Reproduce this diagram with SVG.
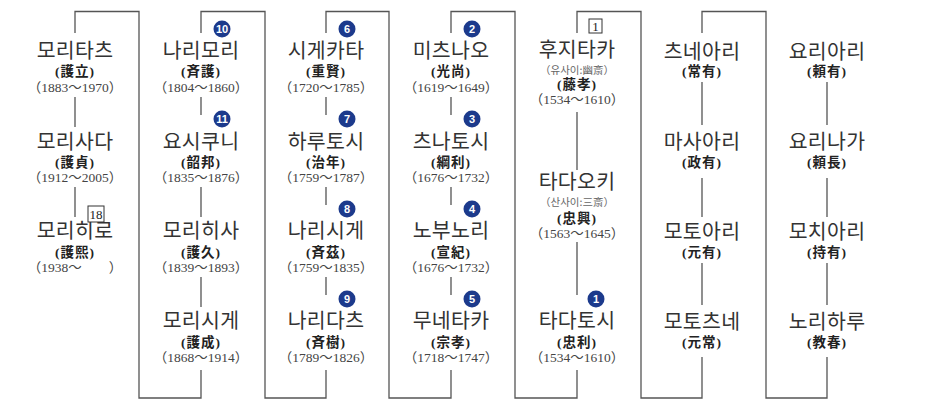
<svg xmlns="http://www.w3.org/2000/svg" width="945" height="407" viewBox="0 0 945 407">
<style>
.nm{font-family:"Noto Sans CJK KR",sans-serif;font-size:20.5px;fill:#333;text-anchor:middle;letter-spacing:0.3px}
.hj{font-family:"Liberation Serif","Noto Sans CJK KR",serif;font-weight:bold;font-size:13.5px;fill:#222;text-anchor:middle;letter-spacing:1px}
.yr{font-family:"Liberation Serif","Noto Sans CJK KR",serif;font-size:13.5px;fill:#444;text-anchor:middle}
.al{font-family:"Noto Sans CJK KR",sans-serif;font-size:10.5px;fill:#666;text-anchor:middle}
.ln{fill:none;stroke:#555;stroke-width:1.3}
.bd{fill:#1c3a8c}
.bt{font-family:"Liberation Sans",sans-serif;font-weight:bold;font-size:11px;fill:#fff;text-anchor:middle}
.bx{fill:#fff;stroke:#333;stroke-width:1}
.bxt{font-family:"Liberation Serif",serif;font-size:13px;fill:#222;text-anchor:middle}
</style>
<rect width="945" height="407" fill="#fff"/>
<g id="connectors" class="ln">
<path d="M75,33V11.5H139V398H201V370"/>
<path d="M201,33V11.5H265V398H326V370"/>
<path d="M326,33V11.5H389V398H451V370"/>
<path d="M451,33V11.5H515V398H577V370"/>
<path d="M577,33V11.5H641V398H702V357"/>
<path d="M702,33V11.5H766V398H827V357"/>
<path d="M75,97V127M75,187V217"/>
<path d="M201,97V115M201,187V217M201,277V307"/>
<path d="M326,97V115M326,187V205M326,277V295"/>
<path d="M451,97V115M451,187V205M451,277V295"/>
<path d="M577,112V170M577,242V295"/>
<path d="M702,82V125M702,178V217M702,263V305"/>
<path d="M827,82V125M827,178V217M827,263V305"/>
</g>
<g id="n-moritatsu"><text class="nm" x="75" y="58">모리타츠</text><text class="hj" x="75" y="76">(護立)</text><text class="yr" x="75" y="92">（1883～1970）</text></g>
<g id="n-morisada"><text class="nm" x="75" y="149">모리사다</text><text class="hj" x="75" y="167">(護貞)</text><text class="yr" x="75" y="182">（1912～2005）</text></g>
<g id="n-morihiro"><text class="nm" x="75" y="238">모리히로</text><text class="hj" x="75" y="257">(護熙)</text><text class="yr" x="75" y="272">（1938～　　）</text><rect class="bx" x="88" y="206" width="16" height="16"/><text class="bxt" x="96" y="219">18</text></g>

<g id="n-narimori"><circle class="bd" cx="222" cy="29" r="8.5"/><text class="bt" x="222" y="33">10</text><text class="nm" x="201" y="58">나리모리</text><text class="hj" x="201" y="76">(斉護)</text><text class="yr" x="201" y="92">（1804～1860）</text></g>
<g id="n-yoshikuni"><circle class="bd" cx="222" cy="119" r="8.5"/><text class="bt" x="222" y="123">11</text><text class="nm" x="201" y="149">요시쿠니</text><text class="hj" x="201" y="167">(韶邦)</text><text class="yr" x="201" y="182">（1835～1876）</text></g>
<g id="n-morihisa"><text class="nm" x="201" y="238">모리히사</text><text class="hj" x="201" y="257">(護久)</text><text class="yr" x="201" y="272">（1839～1893）</text></g>
<g id="n-morishige"><text class="nm" x="201" y="328">모리시게</text><text class="hj" x="201" y="347">(護成)</text><text class="yr" x="201" y="362">（1868～1914）</text></g>

<g id="n-shigekata"><circle class="bd" cx="347" cy="29" r="8.5"/><text class="bt" x="347" y="33">6</text><text class="nm" x="326" y="58">시게카타</text><text class="hj" x="326" y="76">(重賢)</text><text class="yr" x="326" y="92">（1720～1785）</text></g>
<g id="n-harutoshi"><circle class="bd" cx="347" cy="119" r="8.5"/><text class="bt" x="347" y="123">7</text><text class="nm" x="326" y="149">하루토시</text><text class="hj" x="326" y="167">(治年)</text><text class="yr" x="326" y="182">（1759～1787）</text></g>
<g id="n-narishige"><circle class="bd" cx="347" cy="209" r="8.5"/><text class="bt" x="347" y="213">8</text><text class="nm" x="326" y="238">나리시게</text><text class="hj" x="326" y="257">(斉茲)</text><text class="yr" x="326" y="272">（1759～1835）</text></g>
<g id="n-naritatsu"><circle class="bd" cx="347" cy="299" r="8.5"/><text class="bt" x="347" y="303">9</text><text class="nm" x="326" y="328">나리다츠</text><text class="hj" x="326" y="347">(斉樹)</text><text class="yr" x="326" y="362">（1789～1826）</text></g>

<g id="n-mitsunao"><circle class="bd" cx="472" cy="29" r="8.5"/><text class="bt" x="472" y="33">2</text><text class="nm" x="451" y="58">미츠나오</text><text class="hj" x="451" y="76">(光尚)</text><text class="yr" x="451" y="92">（1619～1649）</text></g>
<g id="n-tsunatoshi"><circle class="bd" cx="472" cy="119" r="8.5"/><text class="bt" x="472" y="123">3</text><text class="nm" x="451" y="149">츠나토시</text><text class="hj" x="451" y="167">(綱利)</text><text class="yr" x="451" y="182">（1676～1732）</text></g>
<g id="n-nobunori"><circle class="bd" cx="472" cy="209" r="8.5"/><text class="bt" x="472" y="213">4</text><text class="nm" x="451" y="238">노부노리</text><text class="hj" x="451" y="257">(宣紀)</text><text class="yr" x="451" y="272">（1676～1732）</text></g>
<g id="n-munetaka"><circle class="bd" cx="472" cy="299" r="8.5"/><text class="bt" x="472" y="303">5</text><text class="nm" x="451" y="328">무네타카</text><text class="hj" x="451" y="347">(宗孝)</text><text class="yr" x="451" y="362">（1718～1747）</text></g>

<g id="n-fujitaka"><rect class="bx" x="589" y="19" width="13" height="14"/><text class="bxt" x="595.5" y="31">1</text><text class="nm" x="577" y="57">후지타카</text><text class="al" x="577" y="73.5">（유사이:幽斎）</text><text class="hj" x="577" y="89">(藤孝)</text><text class="yr" x="577" y="104">（1534～1610）</text></g>
<g id="n-tadaoki"><text class="nm" x="577" y="189">타다오키</text><text class="al" x="577" y="206">（산사이:三斎）</text><text class="hj" x="577" y="223">(忠興)</text><text class="yr" x="577" y="238">（1563～1645）</text></g>
<g id="n-tadatoshi"><circle class="bd" cx="596" cy="299" r="8.5"/><text class="bt" x="596" y="303">1</text><text class="nm" x="577" y="328">타다토시</text><text class="hj" x="577" y="347">(忠利)</text><text class="yr" x="577" y="362">（1534～1610）</text></g>

<g id="n-tsuneari"><text class="nm" x="702" y="59">츠네아리</text><text class="hj" x="702" y="76">(常有)</text></g>
<g id="n-masaari"><text class="nm" x="702" y="149">마사아리</text><text class="hj" x="702" y="167">(政有)</text></g>
<g id="n-motoari"><text class="nm" x="702" y="239">모토아리</text><text class="hj" x="702" y="257">(元有)</text></g>
<g id="n-mototsune"><text class="nm" x="702" y="329">모토츠네</text><text class="hj" x="702" y="347">(元常)</text></g>

<g id="n-yoriari"><text class="nm" x="827" y="59">요리아리</text><text class="hj" x="827" y="76">(頼有)</text></g>
<g id="n-yorinaga"><text class="nm" x="827" y="149">요리나가</text><text class="hj" x="827" y="167">(頼長)</text></g>
<g id="n-mochiari"><text class="nm" x="827" y="239">모치아리</text><text class="hj" x="827" y="257">(持有)</text></g>
<g id="n-noriharu"><text class="nm" x="827" y="329">노리하루</text><text class="hj" x="827" y="347">(教春)</text></g>
</svg>
